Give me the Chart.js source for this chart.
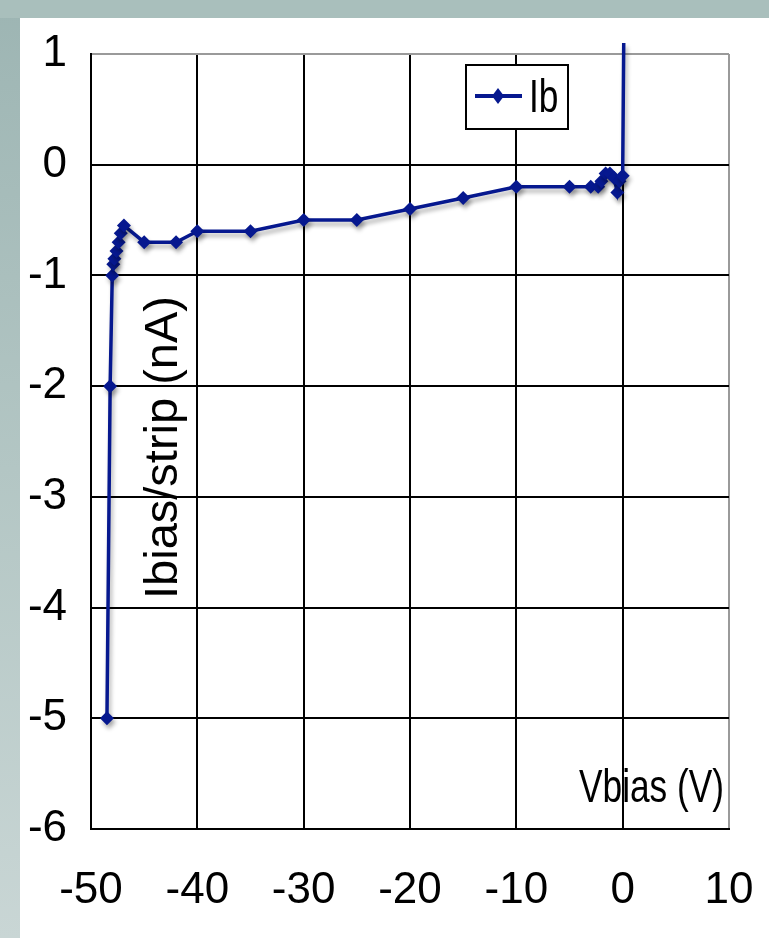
<!DOCTYPE html>
<html>
<head>
<meta charset="utf-8">
<script src="https://cdn.jsdelivr.net/npm/chart.js@4.4.1/dist/chart.umd.min.js"></script>
<style>
  html, body { margin:0; padding:0; }
  body {
    width:769px; height:938px; position:relative; overflow:hidden;
    background: linear-gradient(180deg, #9db5b3 0%, #b3c6c4 50%, #c9d6d5 100%);
  }
  #topstrip { position:absolute; left:0; top:0; width:769px; height:18px; background:#a9bfbc; }
  #panel { position:absolute; left:20px; top:18px; width:749px; height:920px; background:#ffffff; }
  canvas { display:block; }
</style>
</head>
<body>
<div id="topstrip"></div>
<div id="panel"><canvas id="c" width="749" height="920"></canvas></div>
<script>
// ---- data ----
const vbias = [-48.5, -48.2, -48.0, -47.9, -47.8, -47.6, -47.4, -47.2, -46.9, -45, -42, -40, -35, -30, -25, -20, -15, -10, -5, -3, -2.3, -2.0, -1.6, -1.2, -0.8, -0.5, -0.3, 0.0, 0.1];
const ibias = [-5.0, -2.0, -1.0, -0.9, -0.85, -0.78, -0.7, -0.62, -0.55, -0.7, -0.7, -0.6, -0.6, -0.5, -0.5, -0.4, -0.3, -0.2, -0.2, -0.2, -0.2, -0.15, -0.08, -0.08, -0.12, -0.25, -0.15, -0.1, 1.1];
const xTicks = [-50, -40, -30, -20, -10, 0, 10];
const yTicks = [1, 0, -1, -2, -3, -4, -5, -6];
const seriesName = 'Ib';
const xTitle = 'Vbias (V)';
const yTitle = 'Ibias/strip (nA)';

const LINE = '#06188f';
const points = vbias.map((v, i) => ({ x: v, y: ibias[i] }));

const shadowPlugin = {
  id: 'shadow',
  beforeDatasetDraw(chart) {
    const ctx = chart.ctx;
    ctx.save();
    ctx.shadowColor = 'rgba(0,0,0,0.3)';
    ctx.shadowBlur = 4;
    ctx.shadowOffsetX = 2;
    ctx.shadowOffsetY = 4;
  },
  afterDatasetDraw(chart) { chart.ctx.restore(); }
};

const decorPlugin = {
  id: 'decor',
  afterDatasetsDraw(chart) {
    const ctx = chart.ctx;
    const ca = chart.chartArea;
    // y axis title (rotated, inside plot)
    ctx.save();
    ctx.fillStyle = '#000';
    ctx.font = '47px "Liberation Sans", Arial, sans-serif';
    ctx.textBaseline = 'alphabetic';
    ctx.textAlign = 'left';
    ctx.translate(ca.left + 86, ca.top + 545);
    ctx.rotate(-Math.PI / 2);
    ctx.fillText(yTitle, 0, 0);
    ctx.restore();
    // x axis title (inside plot, lower right)
    ctx.save();
    ctx.fillStyle = '#000';
    ctx.font = '47px "Liberation Sans", Arial, sans-serif';
    ctx.textBaseline = 'alphabetic';
    ctx.textAlign = 'right';
    ctx.translate(ca.right - 5, ca.bottom - 27);
    ctx.scale(0.75, 1);
    ctx.fillText(xTitle, 0, 0);
    ctx.restore();
    // legend box
    const bx = ca.left + 375, by = ca.top + 11, bw = 102, bh = 64;
    ctx.save();
    ctx.fillStyle = '#fff';
    ctx.fillRect(bx, by, bw, bh);
    ctx.strokeStyle = '#000';
    ctx.lineWidth = 2;
    ctx.strokeRect(bx, by, bw, bh);
    const ly = by + 31;
    ctx.strokeStyle = LINE;
    ctx.lineWidth = 4;
    ctx.beginPath();
    ctx.moveTo(bx + 9, ly);
    ctx.lineTo(bx + 56, ly);
    ctx.stroke();
    ctx.fillStyle = LINE;
    const mx = bx + 32;
    ctx.beginPath();
    ctx.moveTo(mx, ly - 8); ctx.lineTo(mx + 6, ly); ctx.lineTo(mx, ly + 8); ctx.lineTo(mx - 6, ly);
    ctx.closePath(); ctx.fill();
    ctx.fillStyle = '#000';
    ctx.font = '47px "Liberation Sans", Arial, sans-serif';
    ctx.textBaseline = 'alphabetic';
    ctx.textAlign = 'left';
    ctx.translate(bx + 63, ly + 16);
    ctx.scale(0.75, 1);
    ctx.fillText(seriesName, 0, 0);
    ctx.restore();
  }
};

function noPad(s) {
  s.paddingTop = 0; s.paddingBottom = 0; s.paddingLeft = 0; s.paddingRight = 0;
}

new Chart(document.getElementById('c'), {
  type: 'scatter',
  data: {
    datasets: [{
      label: seriesName,
      data: points,
      showLine: true,
      borderColor: LINE,
      backgroundColor: LINE,
      borderWidth: 3.5,
      pointStyle: 'rectRot',
      pointRadius: (c) => (c.dataIndex === points.length - 1 ? 0 : 7),
      pointBorderWidth: 0,
      tension: 0,
      clip: false
    }]
  },
  options: {
    responsive: false,
    animation: false,
    devicePixelRatio: 1,
    layout: { padding: { top: 36, right: 40, left: 0, bottom: 0 } },
    plugins: { legend: { display: false }, tooltip: { enabled: false } },
    scales: {
      x: {
        type: 'linear',
        min: -50, max: 10,
        afterBuildTicks: (s) => { s.ticks = xTicks.map(v => ({ value: v })); },
        afterFit: (s) => { s.height = 109; noPad(s); },
        grid: {
          color: (c) => (c.tick && c.tick.value === 10 ? '#9a9a9a' : '#000'),
          lineWidth: 2,
          drawTicks: false
        },
        border: { color: '#000', width: 2 },
        ticks: {
          color: '#000',
          padding: 35,
          maxRotation: 0,
          font: { family: '"Liberation Sans Narrow", "Arial Narrow", sans-serif', size: 44 }
        }
      },
      y: {
        type: 'linear',
        min: -6, max: 1,
        afterBuildTicks: (s) => { s.ticks = yTicks.map(v => ({ value: v })); },
        afterFit: (s) => { s.width = 71; noPad(s); },
        grid: {
          color: (c) => (c.tick && c.tick.value === 1 ? '#9a9a9a' : '#000'),
          lineWidth: 2,
          drawTicks: false
        },
        border: { color: '#000', width: 2 },
        ticks: {
          color: '#000',
          padding: 24,
          font: { family: '"Liberation Sans Narrow", "Arial Narrow", sans-serif', size: 44 }
        }
      }
    }
  },
  plugins: [shadowPlugin, decorPlugin]
});
</script>
</body>
</html>
